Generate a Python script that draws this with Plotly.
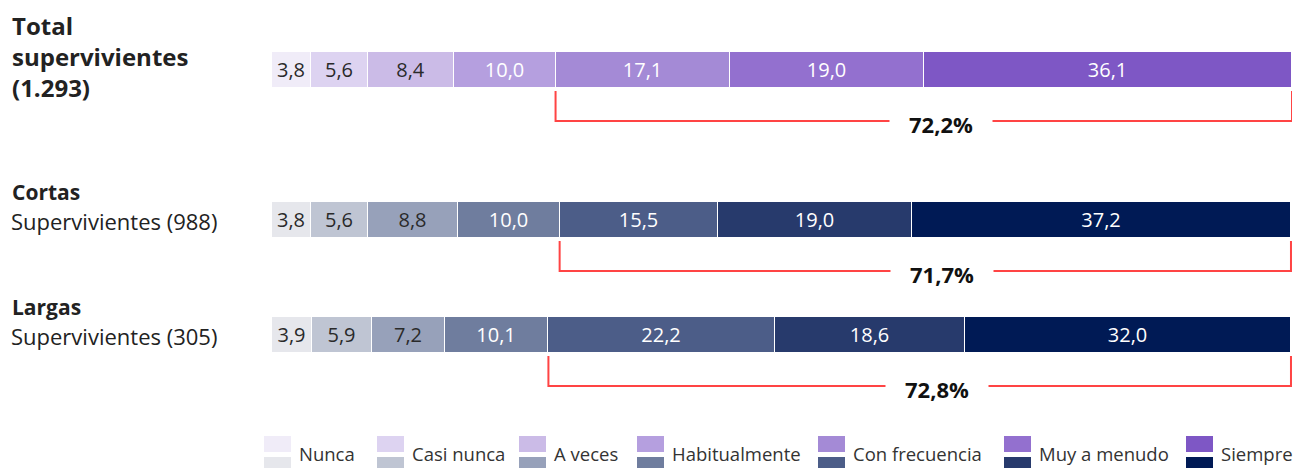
import plotly.graph_objects as go

# data
categories = ["Nunca", "Casi nunca", "A veces", "Habitualmente",
              "Con frecuencia", "Muy a menudo", "Siempre"]
groups = ["Total supervivientes (1.293)", "Cortas Supervivientes (988)",
          "Largas Supervivientes (305)"]
total = [3.8, 5.6, 8.4, 10.0, 17.1, 19.0, 36.1]
cortas = [3.8, 5.6, 8.8, 10.0, 15.5, 19.0, 37.2]
largas = [3.9, 5.9, 7.2, 10.1, 22.2, 18.6, 32.0]
highlight = ["72,2%", "71,7%", "72,8%"]

purple = ["#F0ECF8", "#DDD3F1", "#CBBBE7", "#B59FDF",
          "#A48AD6", "#9370CF", "#7E57C5"]
blue = ["#E6E7EC", "#BFC5D3", "#97A1BA", "#6F7D9E",
        "#4C5D88", "#273A6C", "#001A55"]

# the page has an 8px body margin, so the figure is 8px smaller
# and all positions below are given in page pixels
OFF = 8
W, H = 1305 - OFF, 468 - OFF
FONT = "Open Sans"
row_y = [70, 220, 335]          # row centres, page pixels from the top
bar_w = 36


def fmt(v):
    return f"{v:.1f}".replace(".", ",")


def px(x):
    return (x - OFF) / W


rows = [total, cortas, largas]
fig = go.Figure()
for i, cat in enumerate(categories):
    vals = [r[i] for r in rows]
    fig.add_trace(go.Bar(
        y=row_y, x=vals, orientation="h", width=bar_w, name=cat,
        marker=dict(color=[purple[i], blue[i], blue[i]],
                    line=dict(color="white", width=1)),
        text=[fmt(v) for v in vals], textposition="inside",
        insidetextanchor="middle", textangle=0,
        textfont=dict(family=FONT, size=20,
                      color="#2a2a2a" if i < 3 else "white"),
        showlegend=False, hoverinfo="skip"))

shapes, annos = [], []

# brackets for the last three answers
for r, vals in enumerate(rows):
    x0 = sum(vals[:4])
    x1 = sum(vals)
    top = row_y[r] + bar_w / 2 + 3
    low = row_y[r] + 51
    shapes.append(dict(type="path", xref="x", yref="y",
                       path=f"M {x0},{top} L {x0},{low} L {x1},{low} L {x1},{top}",
                       line=dict(color="#FF4444", width=2)))
    annos.append(dict(x=(x0 + x1) / 2, y=low + 3, xref="x", yref="y",
                      text=f"<b>{highlight[r]}</b>", showarrow=False,
                      xshift=17, width=100, bgcolor="white",
                      font=dict(family=FONT, size=22, color="#111111")))

# row labels
annos.append(dict(x=px(10), y=56, xref="paper", yref="y", xanchor="left",
                  align="left", showarrow=False,
                  text="<b>Total<br>supervivientes<br>(1.293)</b>",
                  font=dict(family=FONT, size=24, color="#222222")))
for name, sub, yy in [("Cortas", "Supervivientes (988)", 192),
                      ("Largas", "Supervivientes (305)", 307)]:
    annos.append(dict(x=px(10), y=yy, xref="paper", yref="y", xanchor="left",
                      showarrow=False, text=f"<b>{name}</b>",
                      font=dict(family=FONT, size=21, color="#222222")))
    annos.append(dict(x=px(9), y=yy + 29, xref="paper", yref="y",
                      xanchor="left", showarrow=False, text=sub,
                      font=dict(family=FONT, size=22, color="#222222")))

# legend: two swatches per answer (purple on top, blue below)
leg_x = [264, 377, 519, 637, 818, 1004, 1186]
for i, cat in enumerate(categories):
    x0 = leg_x[i]
    shapes.append(dict(type="rect", xref="paper", yref="y", x0=px(x0),
                       x1=px(x0 + 27), y0=436, y1=452, line_width=0,
                       fillcolor=purple[i]))
    shapes.append(dict(type="rect", xref="paper", yref="y", x0=px(x0),
                       x1=px(x0 + 27), y0=457, y1=470, line_width=0,
                       fillcolor=blue[i]))
    annos.append(dict(x=px(x0 + 33), y=453, xref="paper", yref="y",
                      xanchor="left", showarrow=False, text=cat,
                      font=dict(family=FONT, size=18.5, color="#333333")))

fig.update_layout(
    width=W, height=H, barmode="stack", bargap=0,
    margin=dict(l=0, r=0, t=0, b=0),
    paper_bgcolor="white", plot_bgcolor="white",
    xaxis=dict(range=[0, 100], domain=[px(272), px(1292)], visible=False,
               fixedrange=True),
    yaxis=dict(range=[468, OFF], domain=[0, 1], visible=False,
               fixedrange=True),
    shapes=shapes, annotations=annos,
)

fig.write_html("out.html")
